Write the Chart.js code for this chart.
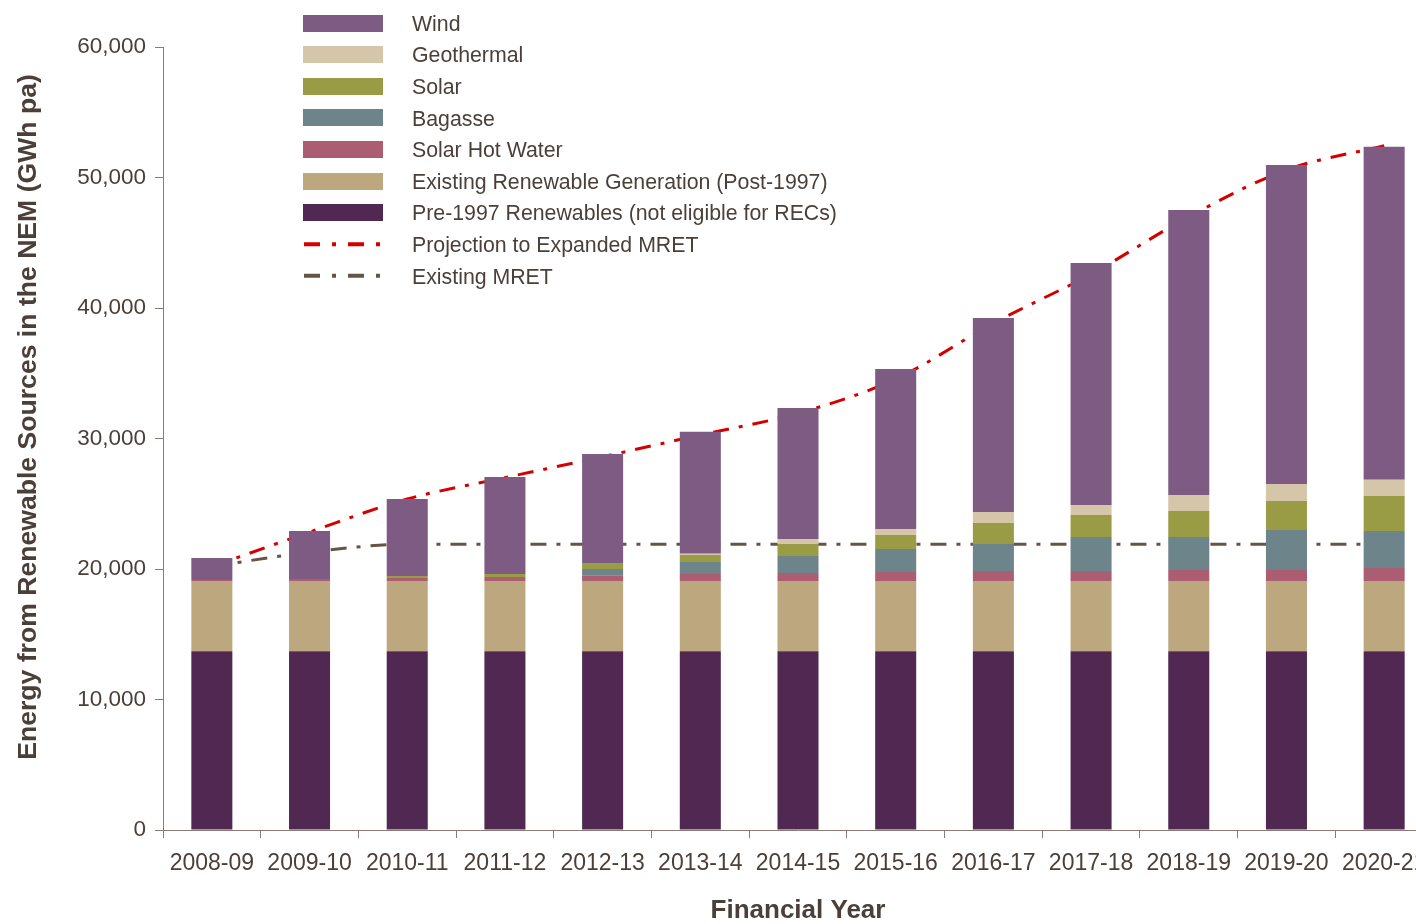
<!DOCTYPE html>
<html>
<head>
<meta charset="utf-8">
<script src="https://cdn.jsdelivr.net/npm/chart.js@4.4.1/dist/chart.umd.min.js"></script>
<style>
html,body{margin:0;padding:0;background:#ffffff;overflow:hidden}
#wrap{width:1416px;height:924px;overflow:hidden;position:relative}
canvas{display:block}
</style>
</head>
<body>
<div id="wrap"><canvas id="c" width="1440" height="924"></canvas></div>
<script>
const categories = ['2008-09','2009-10','2010-11','2011-12','2012-13','2013-14','2014-15','2015-16','2016-17','2017-18','2018-19','2019-20','2020-21'];
const pre1997      = [13700,13700,13700,13700,13700,13700,13700,13700,13700,13700,13700,13700,13700];
const existingPost = [5380,5380,5380,5380,5380,5380,5380,5380,5380,5380,5380,5380,5380];
const solarHotWater= [80,150,230,310,440,540,610,690,770,770,840,840,1000];
const bagasse      = [0,0,0,0,480,920,1300,1760,2070,2600,2530,3070,2840];
const solar        = [0,0,150,230,460,540,920,1070,1610,1690,1990,2220,2680];
const geothermal   = [0,0,0,0,0,80,380,460,840,770,1230,1300,1230];
const wind         = [1690,3680,5900,7430,8350,9350,10040,12260,14870,18540,21840,24440,25520];
const projectionExpandedMRET = [20180,22830,25360,27000,28600,30270,31930,34560,38830,42600,46990,50580,52440];
const existingMRET = [20200,21280,21900,21900,21900,21900,21900,21900,21900,21900,21900,21900,21900];
const yTicks = [0,10000,20000,30000,40000,50000,60000];
const yTitle = 'Energy from Renewable Sources in the NEM (GWh pa)';
const xTitle = 'Financial Year';

const TEXT = '#4b3f39';
const AXIS = '#8a7c74';
const FONT = "'Liberation Sans', Arial, sans-serif";
const DASH = [16, 10, 4, 10];

function bar(label, data, color) {
  return { type: 'bar', label, data, backgroundColor: color, borderWidth: 0, stack: 'gen',
           barPercentage: 0.42, categoryPercentage: 1.0 };
}
function line(label, data, color, stack) {
  return { type: 'line', label, data, borderColor: color, backgroundColor: color, borderWidth: 3,
           borderDash: DASH, pointRadius: 0, pointHoverRadius: 0, fill: false,
           cubicInterpolationMode: 'monotone', stack };
}

const datasets = [
  bar('Pre-1997 Renewables (not eligible for RECs)', pre1997, '#512852'),
  bar('Existing Renewable Generation (Post-1997)', existingPost, '#bda77e'),
  bar('Solar Hot Water', solarHotWater, '#ab5d71'),
  bar('Bagasse', bagasse, '#6d848a'),
  bar('Solar', solar, '#9a9c45'),
  bar('Geothermal', geothermal, '#d5c5a9'),
  bar('Wind', wind, '#7d5b83'),
  line('Projection to Expanded MRET', projectionExpandedMRET, '#d40000', 'proj'),
  line('Existing MRET', existingMRET, '#665446', 'mret')
];
const legendOrder = [6,5,4,3,2,1,0,7,8];

const customDraw = {
  id: 'customDraw',
  afterDraw(chart) {
    const ctx = chart.ctx;
    ctx.save();
    // legend
    ctx.font = '21.3px ' + FONT;
    ctx.textBaseline = 'middle';
    ctx.textAlign = 'left';
    legendOrder.forEach((di, i) => {
      const ds = chart.data.datasets[di];
      const y = 23 + i * 31.6;
      if (ds.type === 'bar') {
        ctx.fillStyle = ds.backgroundColor;
        ctx.fillRect(303, Math.round(y - 8.5), 80, 17);
      } else {
        ctx.strokeStyle = ds.borderColor;
        ctx.lineWidth = 4;
        ctx.setLineDash([16, 12, 4, 12]);
        ctx.beginPath();
        ctx.moveTo(304, y);
        ctx.lineTo(384, y);
        ctx.stroke();
        ctx.setLineDash([]);
      }
      ctx.fillStyle = TEXT;
      ctx.fillText(ds.label, 412, y + 2);
    });
    // y axis title
    ctx.translate(29, 417);
    ctx.rotate(-Math.PI / 2);
    ctx.font = 'bold 26.6px ' + FONT;
    ctx.textAlign = 'center';
    ctx.textBaseline = 'middle';
    ctx.fillStyle = TEXT;
    ctx.fillText(yTitle, 0, 0);
    ctx.restore();
  }
};

new Chart(document.getElementById('c'), {
  data: { labels: categories, datasets },
  options: {
    responsive: false,
    animation: false,
    devicePixelRatio: 1,
    layout: { padding: { top: 47, right: 7, left: 0, bottom: 0 } },
    plugins: { legend: { display: false }, tooltip: { enabled: false }, title: { display: false } },
    scales: {
      x: {
        stacked: true,
        offset: true,
        grid: { display: true, drawOnChartArea: false, drawTicks: true, tickLength: 8, color: AXIS, offset: true },
        border: { display: true, color: AXIS, width: 1 },
        ticks: { color: TEXT, font: { family: FONT, size: 23 }, padding: 12, maxRotation: 0, autoSkip: false },
        title: { display: true, text: xTitle, color: TEXT, font: { family: FONT, size: 26, weight: 'bold', lineHeight: 1.0 }, padding: { top: 0, bottom: 0 } },
        afterFit(s) { s.height = 94; }
      },
      y: {
        stacked: true,
        min: 0, max: 60000,
        afterBuildTicks(s) { s.ticks = yTicks.map(v => ({ value: v })); },
        grid: { display: true, drawOnChartArea: false, drawTicks: true, tickLength: 8, color: AXIS },
        border: { display: true, color: AXIS, width: 1 },
        ticks: { color: TEXT, font: { family: FONT, size: 22.5 }, padding: 9,
                 callback: v => Number(v).toLocaleString('en-US') },
        afterFit(s) { s.width = 163; }
      }
    }
  },
  plugins: [customDraw]
});
</script>
</body>
</html>
